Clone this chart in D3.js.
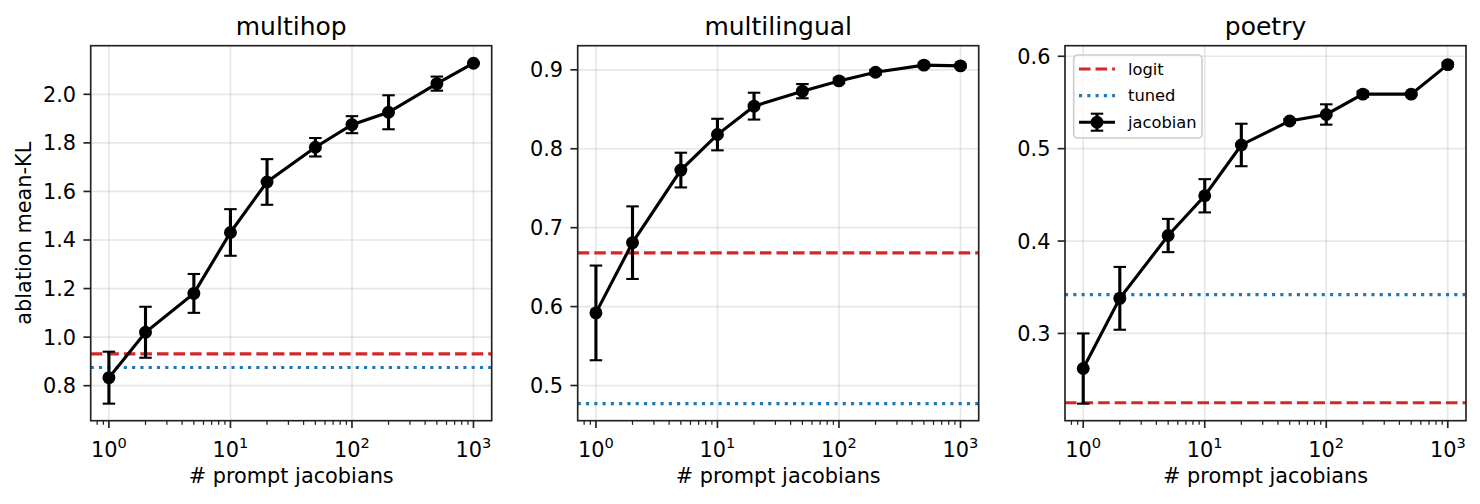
<!DOCTYPE html>
<html>
<head>
<meta charset="utf-8">
<script src="https://cdn.jsdelivr.net/npm/d3@7"></script>
<style>
  body { margin: 0; background: #fff; }
  text { font-family: "DejaVu Sans", sans-serif; fill: #000; }
</style>
</head>
<body>
<div id="chart"></div>
<script>
// number of prompt jacobians (x values, shared by all panels)
const nJac = [1, 2, 5, 10, 20, 50, 100, 200, 500, 1000];

const titles = ["multihop", "multilingual", "poetry"];

const multihopMean = [0.833, 1.020, 1.180, 1.431, 1.639, 1.782, 1.875, 1.926, 2.044, 2.128];
const multihopErr  = [0.107, 0.105, 0.080, 0.096, 0.094, 0.038, 0.035, 0.070, 0.029, 0.002];
const multihopLogit = 0.931;
const multihopTuned = 0.875;

const multilingualMean = [0.592, 0.681, 0.773, 0.818, 0.854, 0.873, 0.886, 0.897, 0.906, 0.905];
const multilingualErr  = [0.060, 0.046, 0.022, 0.020, 0.017, 0.009, 0.003, 0.003, 0.003, 0.002];
const multilingualLogit = 0.668;
const multilingualTuned = 0.477;

const poetryMean = [0.262, 0.338, 0.406, 0.449, 0.504, 0.530, 0.537, 0.559, 0.559, 0.591];
const poetryErr  = [0.038, 0.034, 0.018, 0.018, 0.023, 0.002, 0.011, 0.003, 0.001, 0.002];
const poetryLogit = 0.225;
const poetryTuned = 0.342;

const yTicks = [
    [0.8, 1.0, 1.2, 1.4, 1.6, 1.8, 2.0],
    [0.5, 0.6, 0.7, 0.8, 0.9],
    [0.3, 0.4, 0.5, 0.6]
];
const xTicks = [1, 10, 100, 1000];

const panels = [
    {mean: multihopMean, err: multihopErr, logit: multihopLogit, tuned: multihopTuned},
    {mean: multilingualMean, err: multilingualErr, logit: multilingualLogit, tuned: multilingualTuned},
    {mean: poetryMean, err: poetryErr, logit: poetryLogit, tuned: poetryTuned}
];

const W = 1480, H = 504;
const axLeft = [90.7, 577.7, 1065];
const axW = 401, axTop = 45.7, axH = 375;

const red = "#d62728", blue = "#1f77b4";
const pt = 150 / 72;

const svg = d3.select("#chart")
    .append("svg")
    .attr("width", W)
    .attr("height", H);

// matplotlib-like 5% margins
function padDomain(lo, hi) {
    const m = (hi - lo) * 0.05;
    return [lo - m, hi + m];
}

const lx = padDomain(Math.log10(d3.min(nJac)), Math.log10(d3.max(nJac)));

panels.forEach((p, i) => {
    const g = svg.append("g")
        .attr("transform", "translate(" + axLeft[i] + "," + axTop + ")");

    const x = d3.scaleLog()
        .domain([Math.pow(10, lx[0]), Math.pow(10, lx[1])])
        .range([0, axW]);

    const lows = p.mean.map((d, j) => d - p.err[j]).concat([p.logit, p.tuned]);
    const highs = p.mean.map((d, j) => d + p.err[j]).concat([p.logit, p.tuned]);
    const y = d3.scaleLinear()
        .domain(padDomain(d3.min(lows), d3.max(highs)))
        .range([axH, 0]);

    // grid
    g.selectAll(".gx").data(xTicks).enter().append("line")
        .attr("x1", d => x(d)).attr("x2", d => x(d))
        .attr("y1", 0).attr("y2", axH)
        .attr("stroke", "#b0b0b0").attr("stroke-opacity", 0.3)
        .attr("stroke-width", 0.8 * pt);
    g.selectAll(".gy").data(yTicks[i]).enter().append("line")
        .attr("x1", 0).attr("x2", axW)
        .attr("y1", d => y(d)).attr("y2", d => y(d))
        .attr("stroke", "#b0b0b0").attr("stroke-opacity", 0.3)
        .attr("stroke-width", 0.8 * pt);

    // baselines
    g.append("line")
        .attr("x1", 0).attr("x2", axW)
        .attr("y1", y(p.logit)).attr("y2", y(p.logit))
        .attr("stroke", red).attr("stroke-width", 1.5 * pt)
        .attr("stroke-dasharray", (3.7 * 1.5 * pt) + "," + (1.6 * 1.5 * pt));
    g.append("line")
        .attr("x1", 0).attr("x2", axW)
        .attr("y1", y(p.tuned)).attr("y2", y(p.tuned))
        .attr("stroke", blue).attr("stroke-width", 1.5 * pt)
        .attr("stroke-dasharray", (1 * 1.5 * pt) + "," + (1.65 * 1.5 * pt));

    const pts = nJac.map((n, j) => ({n: n, m: p.mean[j], e: p.err[j]}));

    // error bars
    const cap = 3 * pt;
    g.selectAll(".eb").data(pts).enter().append("line")
        .attr("x1", d => x(d.n)).attr("x2", d => x(d.n))
        .attr("y1", d => y(d.m - d.e)).attr("y2", d => y(d.m + d.e))
        .attr("stroke", "#000").attr("stroke-width", 1.5 * pt);
    ["lo", "hi"].forEach(k => {
        g.selectAll(".cap" + k).data(pts).enter().append("line")
            .attr("x1", d => x(d.n) - cap).attr("x2", d => x(d.n) + cap)
            .attr("y1", d => y(k == "lo" ? d.m - d.e : d.m + d.e))
            .attr("y2", d => y(k == "lo" ? d.m - d.e : d.m + d.e))
            .attr("stroke", "#000").attr("stroke-width", 1 * pt);
    });

    g.append("path")
        .datum(pts)
        .attr("fill", "none")
        .attr("stroke", "#000")
        .attr("stroke-width", 1.5 * pt)
        .attr("d", d3.line().x(d => x(d.n)).y(d => y(d.m)));

    g.selectAll(".dot").data(pts).enter().append("circle")
        .attr("cx", d => x(d.n)).attr("cy", d => y(d.m))
        .attr("r", 3.1 * pt).attr("fill", "#000");

    // spines
    g.append("rect")
        .attr("width", axW).attr("height", axH)
        .attr("fill", "none").attr("stroke", "#222").attr("stroke-width", 0.8 * pt);

    // y ticks
    const yt = g.selectAll(".yt").data(yTicks[i]).enter().append("g")
        .attr("transform", d => "translate(0," + y(d) + ")");
    yt.append("line").attr("x1", -3.5 * pt).attr("x2", 0)
        .attr("stroke", "#222").attr("stroke-width", 0.8 * pt);
    yt.append("text")
        .attr("x", -7 * pt).attr("dy", "0.36em")
        .attr("text-anchor", "end").attr("font-size", 10 * pt)
        .text(d => d.toFixed(1));

    // x ticks, major and minor
    const minor = [];
    for (let e = -1; e <= 3; e++) {
        for (let k = 2; k <= 9; k++) {
            const v = k * Math.pow(10, e);
            if (v >= x.domain()[0] && v <= x.domain()[1]) minor.push(v);
        }
    }
    g.selectAll(".mt").data(minor).enter().append("line")
        .attr("x1", d => x(d)).attr("x2", d => x(d))
        .attr("y1", axH).attr("y2", axH + 2 * pt)
        .attr("stroke", "#222").attr("stroke-width", 0.6 * pt);
    const xt = g.selectAll(".xt").data(xTicks).enter().append("g")
        .attr("transform", d => "translate(" + x(d) + "," + axH + ")");
    xt.append("line").attr("y1", 0).attr("y2", 3.5 * pt)
        .attr("stroke", "#222").attr("stroke-width", 0.8 * pt);
    const lab = xt.append("text")
        .attr("y", 36).attr("text-anchor", "middle").attr("font-size", 10 * pt);
    lab.append("tspan").text("10");
    lab.append("tspan").attr("dy", -8.5).attr("font-size", 7 * pt)
        .text(d => Math.round(Math.log10(d)));

    g.append("text")
        .attr("x", axW / 2).attr("y", axH + 62)
        .attr("text-anchor", "middle").attr("font-size", 10 * pt)
        .text("# prompt jacobians");

    g.append("text")
        .attr("x", axW / 2).attr("y", -11)
        .attr("text-anchor", "middle").attr("font-size", 12 * pt)
        .text(titles[i]);

    if (i == 0) {
        g.append("text")
            .attr("transform", "translate(" + (31.5 - axLeft[0]) + "," + (axH / 2) + ") rotate(-90)")
            .attr("text-anchor", "middle").attr("font-size", 10 * pt)
            .text("ablation mean-KL");
    }

    if (i == 2) {
        const lg = g.append("g").attr("transform", "translate(8.7,9.3)");
        lg.append("rect")
            .attr("width", 128.3).attr("height", 83).attr("rx", 4)
            .attr("fill", "#fff").attr("fill-opacity", 0.8)
            .attr("stroke", "#cccccc").attr("stroke-width", 1.6);
        const items = [
            {name: "logit", color: red, dash: (3.7 * 1.5 * pt) + "," + (1.6 * 1.5 * pt)},
            {name: "tuned", color: blue, dash: (1 * 1.5 * pt) + "," + (1.65 * 1.5 * pt)},
            {name: "jacobian", color: "#000", dash: null}
        ];
        items.forEach((it, k) => {
            const cy = 14 + k * 26.6;
            lg.append("line")
                .attr("x1", 5.3).attr("x2", 41.3).attr("y1", cy).attr("y2", cy)
                .attr("stroke", it.color).attr("stroke-width", 1.5 * pt)
                .attr("stroke-dasharray", it.dash);
            if (it.name == "jacobian") {
                lg.append("line").attr("x1", 23.3).attr("x2", 23.3)
                    .attr("y1", cy - 8.5).attr("y2", cy + 8.5)
                    .attr("stroke", "#000").attr("stroke-width", 1.5 * pt);
                [-8.5, 8.5].forEach(o => {
                    lg.append("line").attr("x1", 23.3 - cap).attr("x2", 23.3 + cap)
                        .attr("y1", cy + o).attr("y2", cy + o)
                        .attr("stroke", "#000").attr("stroke-width", 1 * pt);
                });
                lg.append("circle").attr("cx", 23.3).attr("cy", cy)
                    .attr("r", 3.1 * pt).attr("fill", "#000");
            }
            lg.append("text")
                .attr("x", 54.3).attr("y", cy).attr("dy", "0.36em")
                .attr("font-size", 16.3)
                .text(it.name);
        });
    }
});
</script>
</body>
</html>
